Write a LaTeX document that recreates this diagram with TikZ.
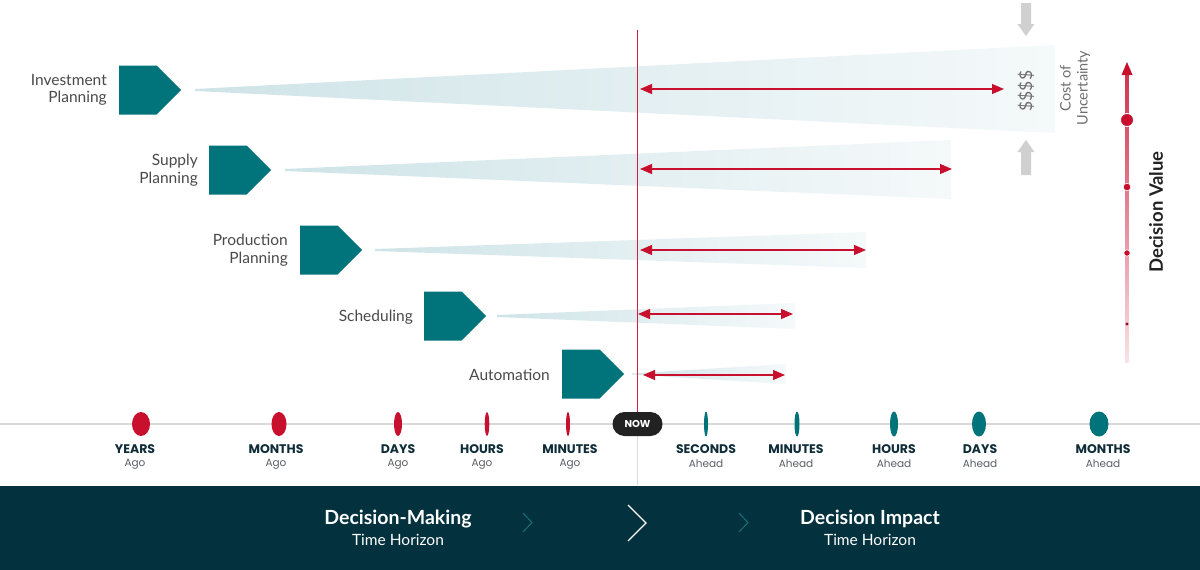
\documentclass[tikz,border=0pt]{standalone}
\usepackage{fontspec}
\setmainfont{Lato}
\newfontfamily\popp{Poppins}
\usetikzlibrary{arrows.meta}
\definecolor{teal1}{HTML}{00737B}
\definecolor{crim}{HTML}{C8102E}
\definecolor{vline}{HTML}{D0203F}
\definecolor{navy}{HTML}{03313D}
\definecolor{labdark}{HTML}{0F2D38}
\definecolor{agogrey}{HTML}{5A6066}
\definecolor{labgrey}{HTML}{4A4A4A}
\definecolor{wedgeL}{HTML}{CFE4E8}
\definecolor{wedgeR}{HTML}{F5F9FA}
\definecolor{linegrey}{HTML}{D9D9D9}
\definecolor{arrgrey}{HTML}{D0D0D0}
\definecolor{textgrey}{HTML}{6E6E6E}
\definecolor{nowblack}{HTML}{222222}
\definecolor{chevteal}{HTML}{1B6F7A}
\definecolor{dvtext}{HTML}{222222}
\begin{document}
\begin{tikzpicture}[x=1pt,y=-1pt,
  pent/.style={fill=teal1},
  lbl/.style={anchor=east, align=right, font=\fontsize{15.5}{17.5}\selectfont, text=labgrey, inner sep=0pt},
  wedge/.style={left color=wedgeL, right color=wedgeR},
  redarr/.style={draw=crim, line width=1.2pt, {Triangle[length=12pt,width=10pt]}-{Triangle[length=12pt,width=10pt]}},
  nowline/.style={draw=vline, line width=1.3pt},
  ticktop/.style={font=\popp\bfseries\fontsize{12.5}{14}\selectfont, text=labdark, inner sep=0pt},
  tickbot/.style={font=\popp\fontsize{10.5}{12}\selectfont, text=agogrey, inner sep=0pt},
  bandbig/.style={font=\bfseries\fontsize{19.5}{22}\selectfont, text=white, inner sep=0pt},
  bandsmall/.style={font=\fontsize{15.5}{18}\selectfont, text=white, inner sep=0pt},
  greyarr/.style={fill=arrgrey}
]
\useasboundingbox (0,0) rectangle (1200,570);
\fill[white] (0,0) rectangle (1200,570);

% wedges
\shade[wedge] (195,89) -- (1055,45) -- (1055,133) -- (195,91) -- cycle;
\shade[wedge] (285,169) -- (951,140) -- (951,199) -- (285,171) -- cycle;
\shade[wedge] (375,249) -- (866,232) -- (866,268) -- (375,251) -- cycle;
\shade[wedge] (497,315) -- (795,303) -- (795,329) -- (497,317) -- cycle;
\shade[wedge] (632,373.5) -- (786,364) -- (786,384) -- (632,374.5) -- cycle;

% vertical "now" line
\coordinate (vtop) at (637.5,30);
\coordinate (vmid) at (637.5,413);
\coordinate (vlow) at (637.5,435);
\coordinate (vbot) at (637.5,485);
\draw[nowline] (vtop) -- (vmid);
\draw[linegrey, line width=1pt] (vlow) -- (vbot);

% pentagons
\foreach \lx/\ly in {119/90, 209/170, 300/250, 424/316, 562/374} {
  \fill[pent] (\lx,{\ly-24.5}) -- ++(37.5,0) -- ++(24.5,24.5) -- ++(-24.5,24.5) -- ++(-37.5,0) -- cycle;
}

% left labels
\node[lbl] (l1) at (107,90) {Investment\\Planning};
\node[lbl] (l2) at (198,170) {Supply\\Planning};
\node[lbl] (l3) at (288,250) {Production\\Planning};
\node[lbl] (l4) at (413,317) {Scheduling};
\node[lbl] (l5) at (550,375) {Automation};

% red arrows
\coordinate (s1) at (640,89);   \coordinate (e1) at (1004,89);
\coordinate (s2) at (640,169);  \coordinate (e2) at (952,169);
\coordinate (s3) at (640,250);  \coordinate (e3) at (866,250);
\coordinate (s4) at (638,314);  \coordinate (e4) at (793,314);
\coordinate (s5) at (643,375);  \coordinate (e5) at (785,375);
\draw[redarr] (s1) -- (e1);
\draw[redarr] (s2) -- (e2);
\draw[redarr] (s3) -- (e3);
\draw[redarr] (s4) -- (e4);
\draw[redarr] (s5) -- (e5);

% timeline
\coordinate (tl0) at (0,424);
\coordinate (tl1) at (1200,424);
\draw[linegrey, line width=1.4pt] (tl0) -- (tl1);

% dots
\foreach \dx/\rx in {141/9, 279/7.5, 398/4, 487/2.3, 568/2} {
  \fill[crim] (\dx,424) ellipse [x radius=\rx, y radius=12];
}
\foreach \dx/\rx in {706/2, 797/2.5, 894/4, 979/7, 1099/9.5} {
  \fill[teal1] (\dx,424) ellipse [x radius=\rx, y radius=12.5];
}

% NOW pill
\node[fill=nowblack, rounded corners=12pt, minimum width=50pt, minimum height=24pt, inner sep=0pt,
  text=white, font=\popp\bfseries\fontsize{10}{12}\selectfont] (now) at (637.5,424) {NOW};

% tick labels
\foreach \tx/\ta/\tb/\nm in {135/YEARS/Ago/a, 276/MONTHS/Ago/b, 398/DAYS/Ago/c, 482/HOURS/Ago/d, 570/MINUTES/Ago/e,
  706/SECONDS/Ahead/f, 796/MINUTES/Ahead/g, 894/HOURS/Ahead/h, 980/DAYS/Ahead/i, 1103/MONTHS/Ahead/j} {
  \node[ticktop] (tt\nm) at (\tx,449) {\ta};
  \node[tickbot] (tb\nm) at (\tx,464) {\tb};
}

% grey arrows
\fill[greyarr] (1021,3) -- (1031,3) -- (1031,24) -- (1034.5,24) -- (1026,36) -- (1017.5,24) -- (1021,24) -- cycle;
\fill[greyarr] (1026,140) -- (1034.5,152) -- (1031,152) -- (1031,175) -- (1021,175) -- (1021,152) -- (1017.5,152) -- cycle;

% rotated texts
\node[rotate=90, text=textgrey, font=\fontsize{17.5}{20}\selectfont, inner sep=0pt] (dollars) at (1026,91) {\$\$\$\$};
\node[rotate=90, align=center, text=textgrey, font=\fontsize{14.5}{17}\selectfont, inner sep=0pt] (cost) at (1075,88) {Cost of\\Uncertainty};

% decision value axis
\shade[top color=crim!85, bottom color=crim!12] (1125.3,74) rectangle (1128.7,362);
\fill[crim] (1127,62) -- (1132.5,75) -- (1121.5,75) -- cycle;
\fill[crim, draw=white, line width=0.8pt] (1127,120) circle (6.5);
\fill[crim, draw=white, line width=0.6pt] (1127,187) circle (3.8);
\fill[crim, draw=white, line width=0.6pt] (1127,253) circle (3.2);
\fill[crim!70!black] (1127,324) circle (1.6);
\node[rotate=90, text=dvtext, font=\bfseries\fontsize{18.5}{21}\selectfont, inner sep=0pt] (dv) at (1156,212) {Decision Value};

% bottom band
\fill[navy] (0,486) rectangle (1200,570);
\node[bandbig] (dm) at (398,519) {Decision-Making};
\node[bandsmall] (dmh) at (398,540) {Time Horizon};
\node[bandbig] (di) at (870,519) {Decision Impact};
\node[bandsmall] (dih) at (870,540) {Time Horizon};
\draw[chevteal, line width=1pt] (523,513) -- (532,522.5) -- (523,532);
\draw[chevteal, line width=1pt] (739,513) -- (748,522.5) -- (739,532);
\draw[white, line width=1.3pt] (628,505) -- (646,523) -- (628,541);
\end{tikzpicture}
\end{document}
